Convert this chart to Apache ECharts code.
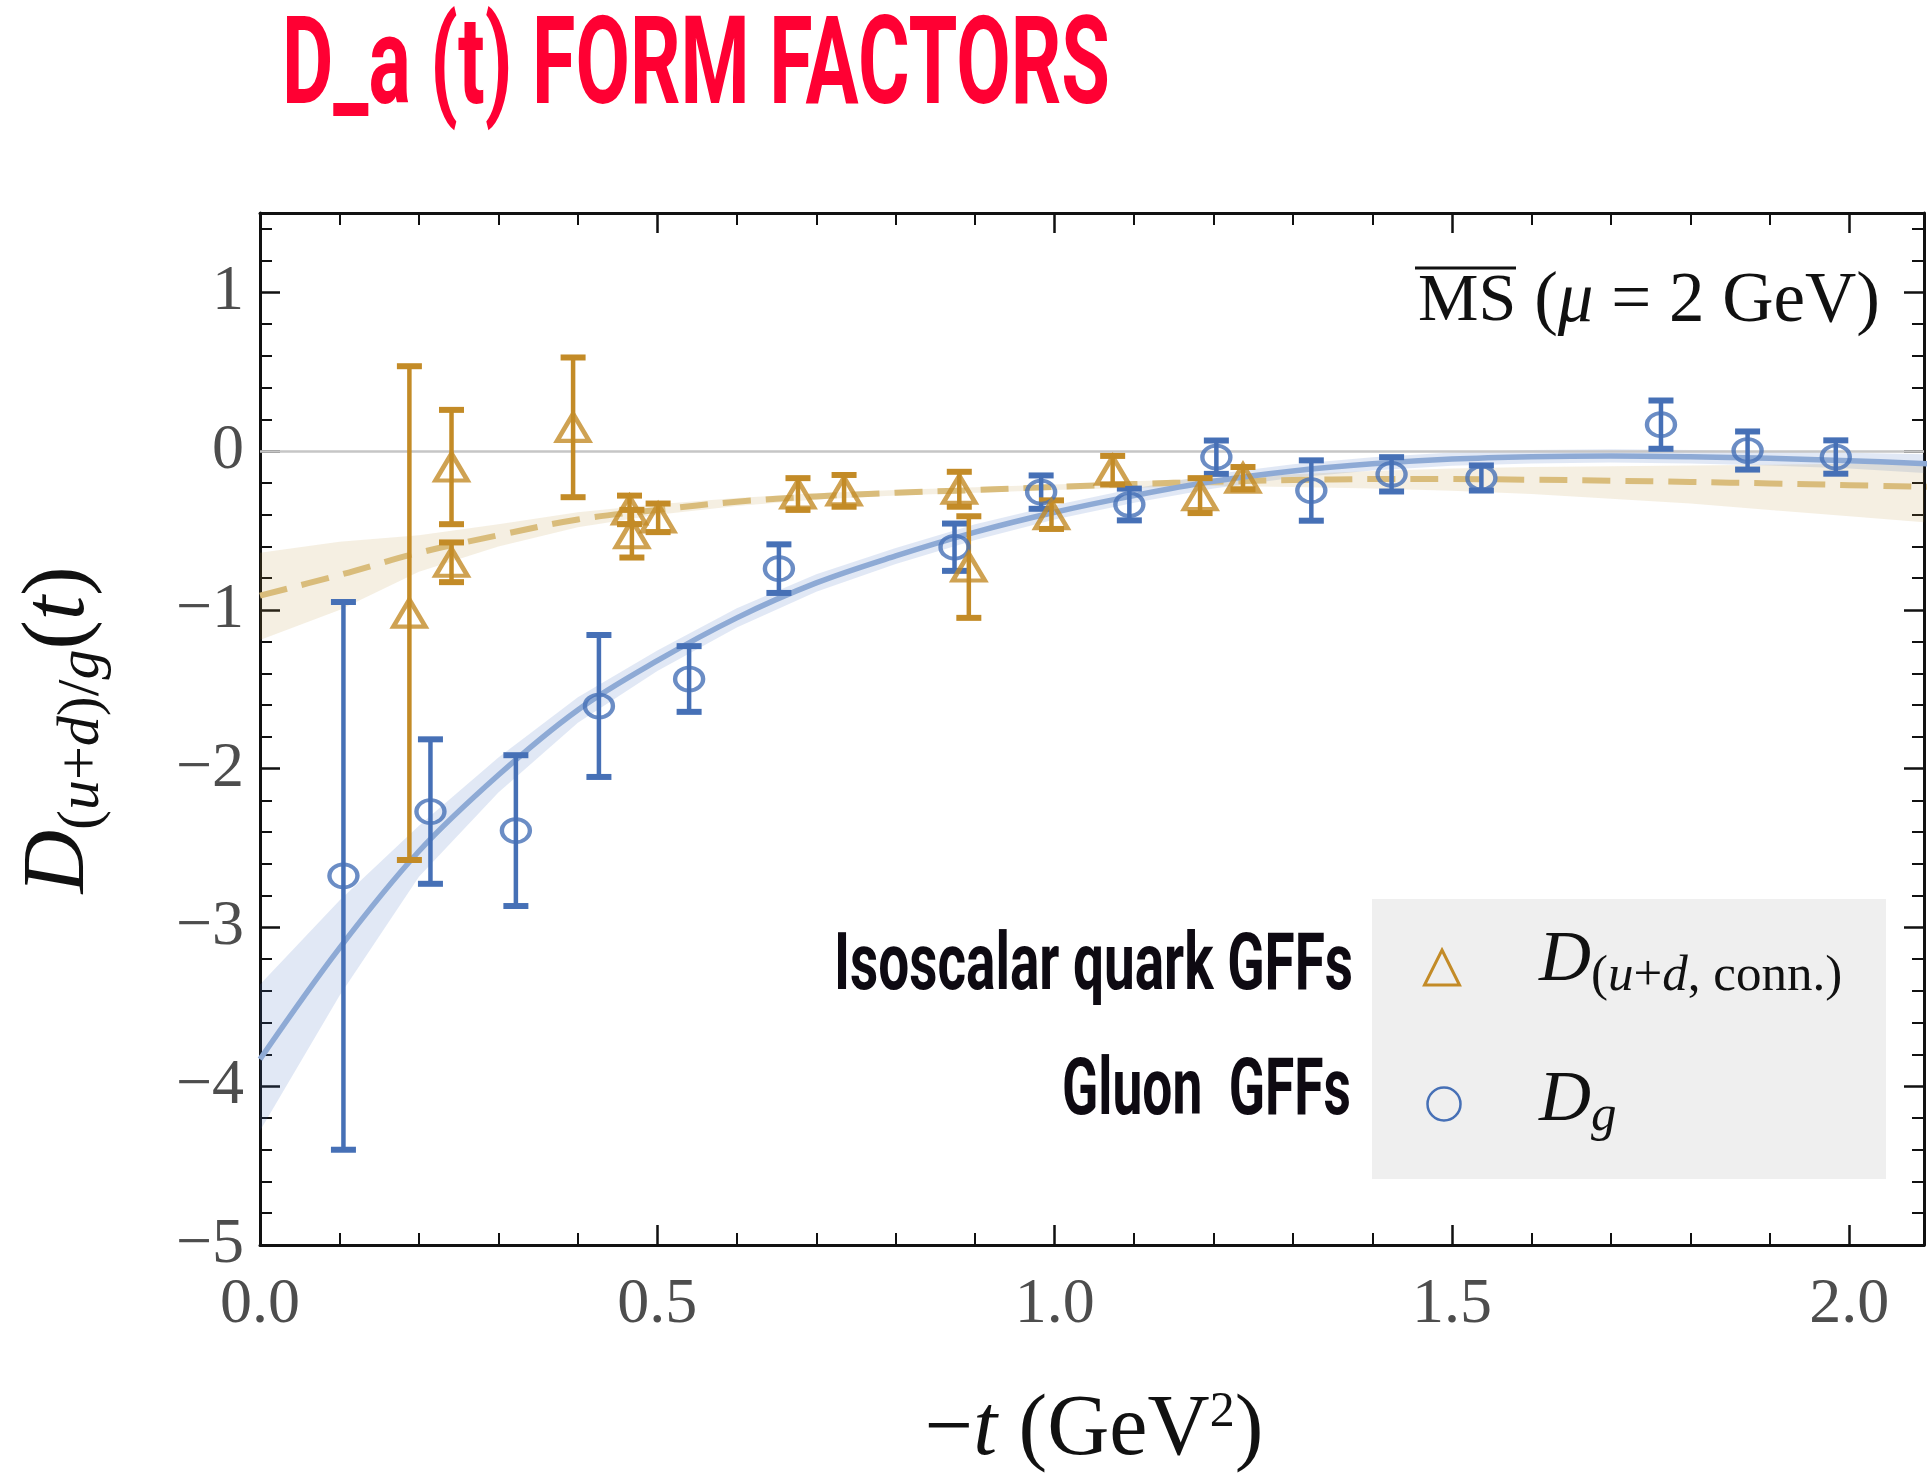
<!DOCTYPE html>
<html>
<head>
<meta charset="utf-8">
<script src="https://cdn.jsdelivr.net/npm/echarts@6/dist/echarts.min.js"></script>
<style>
  html, body { margin: 0; padding: 0; background: #ffffff; }
  #chart { width: 1927px; height: 1473px; }
</style>
</head>
<body>
<div id="chart"></div>
<script>
// ---- Gluon D-term D_g(t): -t (GeV^2), central value, uncertainty ----
const gluonT   = [0.105, 0.2145, 0.322, 0.4265, 0.540, 0.653, 0.874, 0.983, 1.094, 1.2035, 1.323, 1.424, 1.537, 1.763, 1.872, 1.983];
const gluonD   = [-2.675, -2.27, -2.39, -1.605, -1.435, -0.74, -0.605, -0.258, -0.336, -0.038, -0.248, -0.146, -0.169, 0.167, 0.004, -0.037];
const gluonErr = [1.725, 0.455, 0.475, 0.447, 0.207, 0.153, 0.149, 0.105, 0.10, 0.105, 0.19, 0.108, 0.079, 0.152, 0.12, 0.105];

// ---- Isoscalar quark D-term D_(u+d, conn.)(t) ----
const quarkT   = [0.188, 0.241, 0.241, 0.394, 0.465, 0.468, 0.501, 0.677, 0.735, 0.880, 0.892, 0.996, 1.073, 1.183, 1.237];
const quarkD   = [-1.02, -0.10, -0.70, 0.15, -0.37, -0.52, -0.42, -0.27, -0.25, -0.24, -0.73, -0.40, -0.12, -0.28, -0.17];
const quarkErr = [1.555, 0.36, 0.125, 0.44, 0.09, 0.15, 0.09, 0.10, 0.10, 0.11, 0.32, 0.09, 0.09, 0.11, 0.07];

// ---- Fits with their uncertainty bands, sampled in -t ----
const fitT       = [0, 0.1, 0.2, 0.3, 0.4, 0.5, 0.6, 0.7, 0.8, 0.9, 1.0, 1.1, 1.2, 1.3, 1.4, 1.5, 1.6, 1.7, 1.8, 1.9, 2.0, 2.1];
const gluonFit   = [-3.83, -3.13, -2.52, -2.04, -1.63, -1.32, -1.05, -0.83, -0.66, -0.51, -0.385, -0.28, -0.19, -0.125, -0.08, -0.05, -0.035, -0.03, -0.035, -0.045, -0.06, -0.08];
const gluonFitLo = [-4.28, -3.43, -2.68, -2.15, -1.71, -1.385, -1.11, -0.885, -0.71, -0.56, -0.43, -0.325, -0.235, -0.168, -0.122, -0.092, -0.077, -0.072, -0.077, -0.09, -0.11, -0.14];
const gluonFitHi = [-3.36, -2.83, -2.36, -1.93, -1.55, -1.255, -0.99, -0.775, -0.61, -0.46, -0.34, -0.235, -0.145, -0.082, -0.038, -0.008, 0.007, 0.012, 0.007, 0.0, -0.01, -0.02];
const quarkFit   = [-0.91, -0.78, -0.64, -0.53, -0.43, -0.37, -0.318, -0.285, -0.262, -0.245, -0.225, -0.207, -0.193, -0.182, -0.176, -0.176, -0.18, -0.186, -0.194, -0.203, -0.214, -0.225];
const quarkFitLo = [-1.19, -1.0, -0.76, -0.60, -0.48, -0.40, -0.345, -0.305, -0.28, -0.262, -0.245, -0.23, -0.22, -0.225, -0.235, -0.25, -0.27, -0.30, -0.33, -0.37, -0.41, -0.45];
const quarkFitHi = [-0.64, -0.57, -0.53, -0.46, -0.385, -0.335, -0.295, -0.265, -0.245, -0.228, -0.21, -0.19, -0.17, -0.145, -0.125, -0.11, -0.10, -0.095, -0.09, -0.085, -0.08, -0.075];

// ---- Axis ranges ----
const X_MIN = 0, X_MAX = 2.094, X_STEP = 0.5;
const Y_MIN = -5, Y_MAX = 1.5, Y_STEP = 1;

const BLUE = '#4670b6';
const GOLD = '#c38b27';
const SERIF = '"Liberation Serif", "DejaVu Serif", serif';
const COND = 'Roboto, "Noto Sans", sans-serif';

const zip = (xs, ys) => xs.map((x, i) => [x, ys[i]]);
const minus = s => String(s).replace('-', '\u2212');

// horizontal squeeze so a bold sans line spans a given width
function squeeze(text, font, targetWidth) {
  const ctx = document.createElement('canvas').getContext('2d');
  ctx.font = font;
  return targetWidth / ctx.measureText(text).width;
}

function errorBars(name, xs, ys, es, color) {
  return {
    type: 'custom', name: name + ' err', silent: true, z: 4, clip: true,
    data: xs.map((x, i) => [x, ys[i], es[i]]),
    encode: { x: 0, y: 1 },
    renderItem: (params, api) => {
      const x = api.value(0), y = api.value(1), e = api.value(2);
      const top = api.coord([x, y + e]);
      const bot = api.coord([x, y - e]);
      const hw = 12.5;
      return {
        type: 'group',
        children: [
          { type: 'line', shape: { x1: top[0], y1: top[1], x2: bot[0], y2: bot[1] }, style: { stroke: color, lineWidth: 4.5 } },
          { type: 'line', shape: { x1: top[0] - hw, y1: top[1], x2: top[0] + hw, y2: top[1] }, style: { stroke: color, lineWidth: 6 } },
          { type: 'line', shape: { x1: bot[0] - hw, y1: bot[1], x2: bot[0] + hw, y2: bot[1] }, style: { stroke: color, lineWidth: 6 } }
        ]
      };
    }
  };
}

function band(name, t, lo, hi, fill, extra) {
  return Object.assign({
    type: 'custom', name: name, silent: true, z: 1, clip: true,
    data: t.map((x, i) => [x, lo[i], hi[i]]),
    encode: { x: 0, y: [1, 2] },
    renderItem: (params, api) => {
      if (params.dataIndex !== 0) return null;
      const upper = t.map((x, i) => api.coord([x, hi[i]]));
      const lower = t.map((x, i) => api.coord([x, lo[i]])).reverse();
      return { type: 'polygon', shape: { points: upper.concat(lower) }, style: { fill: fill } };
    }
  }, extra || {});
}

const axisBase = {
  type: 'value',
  axisLine: { show: true, onZero: false, lineStyle: { color: '#111', width: 3 } },
  axisTick: { show: true, inside: true, length: 20, lineStyle: { color: '#111', width: 2.5 } },
  minorTick: { show: true, splitNumber: 5, length: 12, lineStyle: { color: '#111', width: 2 } },
  splitLine: { show: false },
  minorSplitLine: { show: false }
};

const tickFont = { fontFamily: SERIF, fontSize: 64, fontWeight: 'normal', color: '#4d4d4d' };

const chart = echarts.init(document.getElementById('chart'), null, { renderer: 'canvas' });

const option = {
  animation: false,
  backgroundColor: '#ffffff',
  grid: { left: 260, right: 3, top: 213, bottom: 228, containLabel: false, outerBoundsMode: 'none' },
  xAxis: [
    Object.assign({}, axisBase, {
      min: X_MIN, max: X_MAX, interval: X_STEP, position: 'bottom',
      axisLabel: Object.assign({ margin: 28, showMaxLabel: false,
        formatter: v => (Math.abs(v / X_STEP - Math.round(v / X_STEP)) < 1e-9 ? v.toFixed(1) : '') }, tickFont)
    }),
    Object.assign({}, axisBase, {
      min: X_MIN, max: X_MAX, interval: X_STEP, position: 'top',
      axisLabel: { show: false }
    })
  ],
  yAxis: [
    Object.assign({}, axisBase, {
      min: Y_MIN, max: Y_MAX, interval: Y_STEP, position: 'left',
      axisLabel: Object.assign({ margin: 16,
        formatter: v => (Number.isInteger(v) ? minus(v) : '') }, tickFont)
    }),
    Object.assign({}, axisBase, {
      min: Y_MIN, max: Y_MAX, interval: Y_STEP, position: 'right',
      axisLabel: { show: false }
    })
  ],
  series: [
    band('Dg band', fitT, gluonFitLo, gluonFitHi, 'rgba(70,115,190,0.16)'),
    band('D(u+d) band', fitT, quarkFitLo, quarkFitHi, 'rgba(190,150,60,0.15)', {
      markLine: {
        silent: true, symbol: 'none', label: { show: false }, z: 2,
        lineStyle: { color: '#c6c6c6', width: 2.5, type: 'solid' },
        data: [{ yAxis: 0 }]
      }
    }),
    {
      type: 'line', name: 'D(u+d) fit', data: zip(fitT, quarkFit), smooth: 0.35,
      symbol: 'none', showSymbol: false, silent: true, z: 3,
      lineStyle: { color: '#d9bc7b', width: 6, type: [28, 15] }
    },
    {
      type: 'line', name: 'Dg fit', data: zip(fitT, gluonFit), smooth: 0.35,
      symbol: 'none', showSymbol: false, silent: true, z: 3,
      lineStyle: { color: '#8eaad5', width: 5.5 }
    },
    errorBars('Dg', gluonT, gluonD, gluonErr, BLUE),
    errorBars('D(u+d, conn.)', quarkT, quarkD, quarkErr, GOLD),
    {
      type: 'scatter', name: 'Dg', data: zip(gluonT, gluonD), z: 5,
      symbol: 'circle', symbolSize: [28, 23],
      itemStyle: { color: 'rgba(255,255,255,0)', borderColor: BLUE, borderWidth: 4 }
    },
    {
      type: 'scatter', name: 'D(u+d, conn.)', data: zip(quarkT, quarkD), z: 5,
      symbol: 'triangle', symbolSize: [32, 27],
      itemStyle: { color: 'rgba(255,255,255,0)', borderColor: GOLD, borderWidth: 4.5 }
    }
  ],
  graphic: []
};

// headline and side labels in a condensed bold face
const titleText = 'D_a (t) FORM FACTORS';
const titleFont = 'bold 122px Roboto';
const isoText = 'Isoscalar quark GFFs';
const gluText = 'Gluon  GFFs';
const sideFont = 'bold 80px Roboto';

const serifTok = (size, italic, extra) => Object.assign({
  fontFamily: SERIF, fontSize: size, fontWeight: 'normal',
  fontStyle: italic ? 'italic' : 'normal', fill: '#111'
}, extra || {});

option.graphic.push(
  {
    type: 'text', x: 282, y: 72, scaleX: squeeze(titleText, titleFont, 828), z: 10,
    style: { text: titleText, fontFamily: COND, fontWeight: 'bold', fontSize: 122, fill: '#ff0033', align: 'left', verticalAlign: 'middle' }
  },
  // y-axis title D_{(u+d)/g}(t)
  {
    type: 'text', x: 64, y: 730, rotation: Math.PI / 2, z: 10,
    style: {
      text: '{mi|D}{s|(}{si|u}{s|+}{si|d}{s|)/}{si|g}{m|(}{mi|t}{m|)}',
      align: 'center', verticalAlign: 'middle', fill: '#111',
      rich: {
        mi: serifTok(88, true, { padding: [0, 0, 8, 0], verticalAlign: 'bottom' }),
        m:  serifTok(88, false, { padding: [0, 0, 8, 0], verticalAlign: 'bottom' }),
        si: serifTok(60, true, { verticalAlign: 'bottom' }),
        s:  serifTok(60, false, { verticalAlign: 'bottom' })
      }
    }
  },
  // x-axis title −t (GeV²)
  {
    type: 'text', x: 1094, y: 1431, z: 10,
    style: {
      text: '{m|\u2212}{mi|t}{m| (GeV}{sup|2}{m|)}',
      align: 'center', verticalAlign: 'middle', fill: '#111',
      rich: {
        m:   serifTok(86, false),
        mi:  serifTok(86, true),
        sup: serifTok(50, false, { lineHeight: 32, verticalAlign: 'top' })
      }
    }
  },
  // scheme annotation
  {
    type: 'text', x: 1418, y: 302, z: 10,
    style: { text: 'MS', fontFamily: SERIF, fontSize: 68, fontWeight: 'normal', fill: '#111', align: 'left', verticalAlign: 'middle' }
  },
  {
    type: 'line', z: 10,
    shape: { x1: 1415, y1: 268, x2: 1516, y2: 268 },
    style: { stroke: '#111', lineWidth: 3 }
  },
  {
    type: 'text', x: 1880, y: 302, z: 10,
    style: {
      text: '{m|(}{mi|\u03bc}{m| = 2 GeV)}',
      align: 'right', verticalAlign: 'middle',
      rich: {
        m:  serifTok(71, false),
        mi: serifTok(71, true)
      }
    }
  },
  // legend panel
  {
    type: 'rect', z: 8, shape: { x: 1372, y: 899, width: 514, height: 280 },
    style: { fill: '#efefef' }
  },
  {
    type: 'polygon', z: 9,
    shape: { points: [[1442, 950], [1459.5, 985], [1424.5, 985]] },
    style: { fill: 'none', stroke: GOLD, lineWidth: 3 }
  },
  {
    type: 'circle', z: 9, shape: { cx: 1444, cy: 1104, r: 16.5 },
    style: { fill: 'none', stroke: BLUE, lineWidth: 2.5 }
  },
  {
    type: 'text', x: 1539, y: 1002, z: 10,
    style: {
      text: '{mi|D}{s|(}{si|u}{s|+}{si|d}{s|, conn.)}',
      align: 'left', verticalAlign: 'bottom',
      rich: {
        mi: serifTok(72, true, { padding: [0, 0, 5, 0], verticalAlign: 'bottom' }),
        si: serifTok(51, true, { verticalAlign: 'bottom' }),
        s:  serifTok(51, false, { verticalAlign: 'bottom' })
      }
    }
  },
  {
    type: 'text', x: 1539, y: 1142, z: 10,
    style: {
      text: '{mi|D}{si|g}',
      align: 'left', verticalAlign: 'bottom',
      rich: {
        mi: serifTok(72, true, { padding: [0, 0, 5, 0], verticalAlign: 'bottom' }),
        si: serifTok(51, true, { verticalAlign: 'bottom' })
      }
    }
  },
  {
    type: 'text', x: 1353, y: 969, scaleX: squeeze(isoText, sideFont, 519), z: 10,
    style: { text: isoText, fontFamily: COND, fontWeight: 'bold', fontSize: 80, fill: '#0e0a12', align: 'right', verticalAlign: 'middle' }
  },
  {
    type: 'text', x: 1351, y: 1094, scaleX: squeeze(gluText, sideFont, 289), z: 10,
    style: { text: gluText, fontFamily: COND, fontWeight: 'bold', fontSize: 80, fill: '#0e0a12', align: 'right', verticalAlign: 'middle' }
  }
);

chart.setOption(option);
</script>
</body>
</html>
